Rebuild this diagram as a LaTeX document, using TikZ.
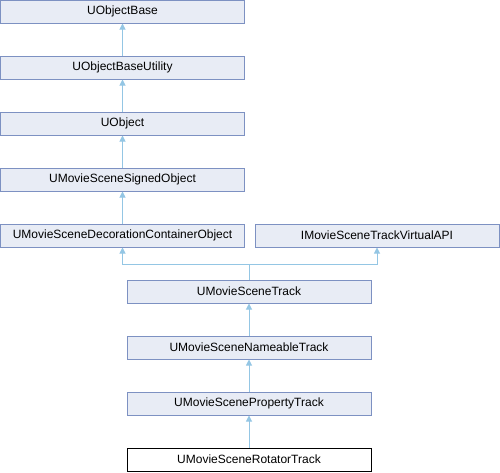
\documentclass[tikz,border=0pt]{standalone}
\usepackage{fontspec}
\setmainfont{Liberation Sans}
\usetikzlibrary{arrows.meta}
\definecolor{boxfill}{HTML}{E8ECF5}
\definecolor{boxline}{HTML}{7D91C2}
\definecolor{edgecol}{HTML}{94C6E4}
\tikzset{
  cls/.style={draw=boxline, fill=boxfill, line width=1pt, minimum width=244pt, minimum height=23pt, inner sep=0pt, font=\fontsize{12}{14}\selectfont},
  cur/.style={cls, draw=black, fill=white},
  inh/.style={draw=edgecol, line width=1pt, -{Triangle[length=6pt,width=6pt]}},
}
\begin{document}
\begin{tikzpicture}[x=1pt,y=1pt]
\useasboundingbox (0,0) rectangle (500,-472);
\node[cls] (ob) at (122.5,-11.5) {UObjectBase};
\node[cls] (obu) at (122.5,-67.5) {UObjectBaseUtility};
\node[cls] (uo) at (122.5,-123.5) {UObject};
\node[cls] (so) at (122.5,-179.5) {UMovieSceneSignedObject};
\node[cls] (dc) at (122.5,-235.5) {UMovieSceneDecorationContainerObject};
\node[cls] (va) at (377,-235.5) {IMovieSceneTrackVirtualAPI};
\node[cls] (tr) at (249,-291.5) {UMovieSceneTrack};
\node[cls] (nt) at (249,-347.5) {UMovieSceneNameableTrack};
\node[cls] (pt) at (249,-403.5) {UMovieScenePropertyTrack};
\node[cur] (rt) at (249,-459.5) {UMovieSceneRotatorTrack};
\coordinate (j) at (249,-264);
\draw[inh] (obu.north) -- (ob.south);
\draw[inh] (uo.north) -- (obu.south);
\draw[inh] (so.north) -- (uo.south);
\draw[inh] (dc.north) -- (so.south);
\draw[inh] (tr.north) -- (j) -| (dc.south);
\draw[inh] (tr.north) -- (j) -| (va.south);
\draw[inh] (nt.north) -- (tr.south);
\draw[inh] (pt.north) -- (nt.south);
\draw[inh] (rt.north) -- (pt.south);
\end{tikzpicture}
\end{document}
